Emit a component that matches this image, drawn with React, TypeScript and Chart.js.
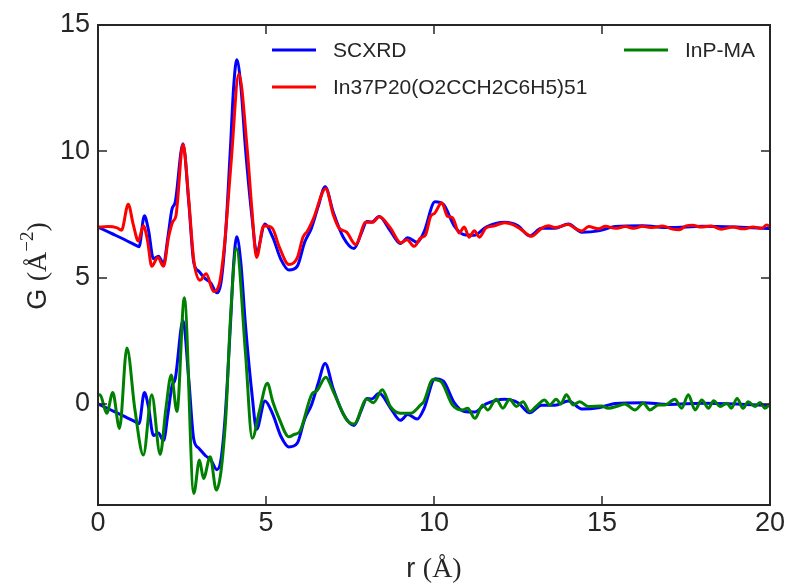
import React, { useEffect, useRef } from 'react';
import { Chart, registerables } from 'chart.js';

Chart.register(...registerables);

// ---- data (G values; the upper pair is drawn with an offset of 7) ----
const UPPER_OFFSET = 7;

const scxrdR = [0, 0.4, 0.8, 1.1, 1.22, 1.38, 1.5, 1.65, 1.8, 1.95, 2.08, 2.2, 2.3, 2.53, 2.7, 2.85, 3.0, 3.2, 3.35, 3.54, 3.66, 3.79, 3.94, 4.04, 4.13, 4.25, 4.39, 4.59, 4.72, 4.97, 5.2, 5.45, 5.68, 5.93, 6.15, 6.35, 6.55, 6.76, 7.0, 7.3, 7.62, 7.85, 8.0, 8.15, 8.37, 8.7, 9.0, 9.22, 9.5, 9.7, 10.03, 10.28, 10.6, 10.9, 11.2, 11.55, 12.1, 12.5, 12.85, 13.2, 13.6, 14.0, 14.4, 14.9, 15.4, 16.2, 17.0, 18.0, 19.0, 20.0];
const scxrdG = [0.0, -0.25, -0.5, -0.7, -0.78, 0.45, -0.1, -1.25, -1.15, -1.45, -0.4, 0.7, 1.0, 3.3, 1.0, -1.4, -1.75, -2.05, -2.2, -2.6, -2.2, -0.4, 3.1, 5.6, 6.62, 5.6, 3.1, 0.3, -1.0, 0.12, -0.4, -1.3, -1.7, -1.55, -0.6, -0.05, 0.8, 1.6, 0.6, -0.4, -0.85, -0.2, 0.22, 0.2, 0.42, -0.15, -0.65, -0.42, -0.6, -0.2, 1.0, 0.9, 0.05, -0.3, -0.32, 0.0, 0.19, 0.05, -0.35, -0.05, -0.05, 0.12, -0.2, -0.15, 0.02, 0.05, -0.02, 0.03, 0.0, -0.06];

const clusterR = [0, 0.3, 0.55, 0.7, 0.9, 1.05, 1.2, 1.35, 1.47, 1.6, 1.78, 1.95, 2.1, 2.22, 2.32, 2.53, 2.7, 2.85, 3.04, 3.22, 3.44, 3.6, 3.75, 3.97, 4.19, 4.44, 4.58, 4.72, 4.93, 5.18, 5.4, 5.68, 5.93, 6.1, 6.23, 6.4, 6.78, 7.0, 7.17, 7.4, 7.67, 7.97, 8.17, 8.37, 8.7, 9.01, 9.2, 9.41, 9.6, 9.75, 9.9, 10.02, 10.23, 10.4, 10.55, 10.75, 10.9, 11.05, 11.2, 11.35, 11.55, 11.8, 12.1, 12.35, 12.6, 12.9, 13.2, 13.4, 13.6, 14.0, 14.2, 14.4, 14.6, 14.9, 15.1, 15.4, 15.7, 15.95, 16.2, 16.5, 16.8, 17.1, 17.3, 17.5, 17.7, 17.95, 18.25, 18.55, 18.9, 19.2, 19.5, 19.75, 19.9, 20.0];
const clusterG = [0.0, 0.02, -0.02, -0.12, 0.9, 0.1, -0.55, 0.05, -0.5, -1.55, -1.2, -1.55, -0.4, 0.2, 0.45, 3.28, 1.1, -1.3, -2.1, -1.85, -2.55, -2.3, -0.9, 2.7, 6.06, 3.1, 0.7, -1.2, 0.05, -0.03, -0.8, -1.48, -1.22, -0.4, -0.16, 0.3, 1.52, 0.5, -0.03, -0.2, -0.69, 0.19, 0.19, 0.41, -0.03, -0.62, -0.5, -0.76, -0.43, -0.3, 0.43, 0.55, 0.96, 0.43, 0.37, -0.23, 0.0, -0.4, -0.14, -0.4, -0.03, 0.05, 0.17, 0.1, -0.1, -0.36, -0.05, 0.05, -0.02, 0.1, -0.05, -0.15, 0.02, -0.07, 0.03, -0.05, 0.02, -0.05, 0.03, -0.02, 0.04, -0.08, -0.1, 0.05, 0.07, 0.0, 0.04, -0.08, 0.0, -0.07, 0.0, -0.05, 0.08, 0.02];

const inpmaR = [0, 0.06, 0.26, 0.44, 0.64, 0.86, 1.1, 1.35, 1.6, 1.85, 2.02, 2.18, 2.35, 2.57, 2.85, 3.02, 3.14, 3.34, 3.52, 3.8, 3.94, 4.12, 4.39, 4.59, 4.8, 5.04, 5.2, 5.39, 5.68, 5.85, 6.0, 6.38, 6.5, 6.78, 7.0, 7.4, 7.62, 8.0, 8.2, 8.46, 8.7, 9.0, 9.3, 9.6, 9.7, 9.97, 10.2, 10.55, 10.85, 11.0, 11.22, 11.45, 11.6, 11.85, 12.05, 12.25, 12.45, 12.65, 12.85, 13.04, 13.29, 13.44, 13.64, 13.77, 13.94, 14.14, 14.34, 14.59, 14.99, 15.18, 15.48, 15.68, 15.98, 16.23, 16.43, 16.68, 16.87, 17.17, 17.37, 17.57, 17.77, 17.97, 18.17, 18.32, 18.52, 18.72, 18.85, 19.02, 19.2, 19.35, 19.55, 19.7, 19.85, 20.0];
const inpmaG = [0.35, 0.36, -0.37, 0.45, -0.97, 2.21, -0.24, -2.02, 0.36, -2.0, -0.2, 1.15, -0.3, 4.2, -3.54, -2.22, -2.95, -2.09, -3.41, -0.6, 3.33, 6.15, 2.0, -1.36, -0.3, 0.82, 0.1, -0.57, -1.3, -1.2, -1.1, 0.42, 0.5, 1.06, 0.5, -0.63, -0.79, 0.2, 0.05, 0.56, -0.1, -0.37, -0.37, -0.04, 0.1, 0.97, 0.9, -0.04, -0.24, -0.17, -0.57, -0.04, -0.24, 0.19, -0.17, 0.19, -0.1, 0.09, -0.3, -0.1, 0.16, -0.04, 0.19, 0.0, 0.36, -0.04, 0.09, -0.1, -0.08, -0.17, -0.08, 0.0, -0.24, 0.03, -0.24, -0.04, -0.04, 0.19, -0.17, 0.36, -0.24, 0.16, -0.17, 0.13, -0.1, 0.03, -0.17, 0.22, -0.17, 0.09, -0.1, 0.06, -0.17, 0.0];

const seriesNames = ['SCXRD', 'In37P20(O2CCH2C6H5)51', 'InP-MA'];
const seriesColors = ['#0000ff', '#ff0000', '#008000'];
const xTicks = [0, 5, 10, 15, 20];
const yTicks = [0, 5, 10, 15];
const X_MIN = 0, X_MAX = 20, Y_MIN = -4, Y_MAX = 15;

const SANS = '"Liberation Sans", Arial, sans-serif';
const SERIF = '"Liberation Serif", "Times New Roman", serif';
const INK = '#262626';

const toPoints = (rs: number[], gs: number[], off: number) =>
  rs.map((r, i) => ({ x: r, y: gs[i] + off }));

function drawPieces(ctx: CanvasRenderingContext2D, pieces: { t: string; font: string; dy?: number }[], cx: number, baseline: number) {
  let total = 0;
  const widths = pieces.map((p) => {
    ctx.font = p.font;
    const w = ctx.measureText(p.t).width;
    total += w;
    return w;
  });
  let x = cx - total / 2;
  pieces.forEach((p, i) => {
    ctx.font = p.font;
    ctx.fillText(p.t, x, baseline + (p.dy || 0));
    x += widths[i];
  });
}

const overlay = {
  id: 'overlay',
  afterDatasetsDraw(chart: any) {
    const { ctx, chartArea: a, scales } = chart;
    const xs = scales.x, ys = scales.y;
    ctx.save();
    // frame
    ctx.strokeStyle = INK;
    ctx.lineWidth = 2;
    ctx.strokeRect(a.left, a.top, a.right - a.left, a.bottom - a.top);
    // inward ticks on all sides
    ctx.lineWidth = 1.5;
    const L = 9;
    ctx.beginPath();
    for (const t of xTicks) {
      const px = Math.round(xs.getPixelForValue(t));
      ctx.moveTo(px, a.bottom); ctx.lineTo(px, a.bottom - L);
      ctx.moveTo(px, a.top); ctx.lineTo(px, a.top + L);
    }
    for (const t of yTicks) {
      const py = Math.round(ys.getPixelForValue(t));
      ctx.moveTo(a.left, py); ctx.lineTo(a.left + L, py);
      ctx.moveTo(a.right, py); ctx.lineTo(a.right - L, py);
    }
    ctx.stroke();

    // legend (no frame)
    const rows = [
      { name: seriesNames[0], color: seriesColors[0], x: 272, y: 50 },
      { name: seriesNames[1], color: seriesColors[1], x: 272, y: 87 },
      { name: seriesNames[2], color: seriesColors[2], x: 624, y: 50 },
    ];
    ctx.font = `21px ${SANS}`;
    ctx.textBaseline = 'middle';
    ctx.textAlign = 'left';
    for (const r of rows) {
      ctx.strokeStyle = r.color;
      ctx.lineWidth = 3;
      ctx.beginPath();
      ctx.moveTo(r.x, r.y); ctx.lineTo(r.x + 44, r.y);
      ctx.stroke();
      ctx.fillStyle = INK;
      ctx.fillText(r.name, r.x + 61, r.y + 1);
    }

    // axis titles
    ctx.fillStyle = INK;
    ctx.textBaseline = 'alphabetic';
    drawPieces(ctx, [
      { t: 'r ', font: `27px ${SANS}` },
      { t: '(Å)', font: `28px ${SERIF}` },
    ], (a.left + a.right) / 2, 577);

    ctx.save();
    ctx.translate(46, (a.top + a.bottom) / 2 + 1);
    ctx.rotate(-Math.PI / 2);
    drawPieces(ctx, [
      { t: 'G ', font: `27px ${SANS}` },
      { t: '(Å', font: `28px ${SERIF}` },
      { t: '−2', font: `19px ${SERIF}`, dy: -13 },
      { t: ')', font: `28px ${SERIF}` },
    ], 0, 0);
    ctx.restore();

    ctx.restore();
  },
};

export default function App() {
  const ref = useRef<HTMLCanvasElement | null>(null);

  useEffect(() => {
    if (!ref.current) return;
    const line = (data: any[], color: string, order: number) => ({
      data,
      order,
      borderColor: color,
      backgroundColor: color,
      borderWidth: 3,
      pointRadius: 0,
      fill: false,
      cubicInterpolationMode: 'monotone' as const,
    });
    // lower "order" is painted on top: red over upper blue, green over lower blue
    const chart = new Chart(ref.current, {
      type: 'line',
      data: {
        datasets: [
          { label: seriesNames[0], ...line(toPoints(scxrdR, scxrdG, UPPER_OFFSET), seriesColors[0], 2) },
          { label: seriesNames[1], ...line(toPoints(clusterR, clusterG, UPPER_OFFSET), seriesColors[1], 1) },
          { label: seriesNames[0] + ' ', ...line(toPoints(scxrdR, scxrdG, 0), seriesColors[0], 2) },
          { label: seriesNames[2], ...line(toPoints(inpmaR, inpmaG, 0), seriesColors[2], 0) },
        ],
      },
      options: {
        animation: false,
        responsive: false,
        parsing: false,
        layout: { padding: { top: 25, right: 21, left: 0, bottom: 0 } },
        plugins: { legend: { display: false }, tooltip: { enabled: false } },
        scales: {
          x: {
            type: 'linear',
            min: X_MIN,
            max: X_MAX,
            grid: { display: false, drawTicks: false },
            border: { display: false },
            afterBuildTicks: (s: any) => { s.ticks = xTicks.map((v) => ({ value: v })); },
            afterFit: (s: any) => { s.height = 78; },
            ticks: { font: { size: 27, family: SANS }, color: INK, padding: 2, maxRotation: 0, autoSkip: false },
          },
          y: {
            type: 'linear',
            min: Y_MIN,
            max: Y_MAX,
            grid: { display: false, drawTicks: false },
            border: { display: false },
            afterBuildTicks: (s: any) => { s.ticks = yTicks.map((v) => ({ value: v })); },
            afterFit: (s: any) => { s.width = 98; },
            ticks: { font: { size: 27, family: SANS }, color: INK, padding: 8, autoSkip: false },
          },
        },
      },
      plugins: [overlay],
    });
    return () => chart.destroy();
  }, []);

  return (
    <div style={{ position: 'fixed', left: 0, top: 0, width: 791, height: 583, background: '#fff' }}>
      <canvas ref={ref} width={791} height={583} style={{ display: 'block' }} />
    </div>
  );
}
